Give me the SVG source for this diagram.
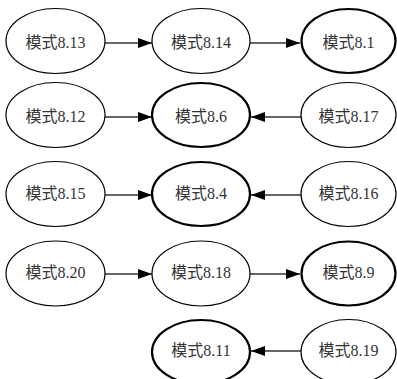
<svg xmlns="http://www.w3.org/2000/svg" width="397" height="379" viewBox="0 0 397 379">
<style>
.n{fill:#fff;stroke:#000;stroke-width:1.2}
.b{fill:#fff;stroke:#000;stroke-width:2.2}
.t{font-family:"Liberation Serif","Noto Sans CJK SC",serif;font-size:16px;fill:#333;text-anchor:middle;dominant-baseline:central}
.e{stroke:#333;stroke-width:1.3;fill:none;marker-end:url(#a)}
</style>
<defs>
<marker id="a" markerWidth="14" markerHeight="10" refX="14" refY="5" orient="auto" markerUnits="userSpaceOnUse">
<path d="M0,0 L14,5 L0,10 Z" fill="#000"/>
</marker>
</defs>
<rect width="397" height="379" fill="#fff"/>
<g id="connectors">
<line class="e" x1="105" y1="43" x2="152" y2="43"/>
<line class="e" x1="250" y1="43" x2="300" y2="43"/>
<line class="e" x1="105" y1="117" x2="152" y2="117"/>
<line class="e" x1="301" y1="117" x2="251" y2="117"/>
<line class="e" x1="105" y1="195" x2="152" y2="195"/>
<line class="e" x1="301" y1="195" x2="251" y2="195"/>
<line class="e" x1="105" y1="274" x2="152" y2="274"/>
<line class="e" x1="250" y1="274" x2="300" y2="274"/>
<line class="e" x1="301" y1="351" x2="251" y2="351"/>
</g>
<g id="n813"><ellipse class="n" cx="55.5" cy="41" rx="49.5" ry="32.5"/><text class="t" x="55.5" y="42">模式8.13</text></g>
<g id="n814"><ellipse class="n" cx="201" cy="41" rx="49" ry="32.5"/><text class="t" x="201" y="42">模式8.14</text></g>
<g id="n81"><ellipse class="b" cx="348.5" cy="41" rx="47" ry="32"/><text class="t" x="348.5" y="42">模式8.1</text></g>
<g id="n812"><ellipse class="n" cx="55.5" cy="115" rx="49.5" ry="32.5"/><text class="t" x="55.5" y="116">模式8.12</text></g>
<g id="n86"><ellipse class="b" cx="201" cy="115" rx="49" ry="32"/><text class="t" x="201" y="116">模式8.6</text></g>
<g id="n817"><ellipse class="n" cx="348.5" cy="115" rx="47.5" ry="32.5"/><text class="t" x="348.5" y="116">模式8.17</text></g>
<g id="n815"><ellipse class="n" cx="55.5" cy="194" rx="49.5" ry="32.5"/><text class="t" x="55.5" y="193">模式8.15</text></g>
<g id="n84"><ellipse class="b" cx="201" cy="194" rx="49" ry="32"/><text class="t" x="201" y="193">模式8.4</text></g>
<g id="n816"><ellipse class="n" cx="348.5" cy="194" rx="47.5" ry="32.5"/><text class="t" x="348.5" y="193">模式8.16</text></g>
<g id="n820"><ellipse class="n" cx="55.5" cy="273.5" rx="49.5" ry="32.5"/><text class="t" x="55.5" y="272">模式8.20</text></g>
<g id="n818"><ellipse class="n" cx="201" cy="273.5" rx="49" ry="32.5"/><text class="t" x="201" y="272">模式8.18</text></g>
<g id="n89"><ellipse class="b" cx="348.5" cy="273.5" rx="47" ry="32"/><text class="t" x="348.5" y="272">模式8.9</text></g>
<g id="n811"><ellipse class="b" cx="201" cy="352" rx="49" ry="32"/><text class="t" x="201" y="350">模式8.11</text></g>
<g id="n819"><ellipse class="n" cx="348.5" cy="352" rx="47.5" ry="32.5"/><text class="t" x="348.5" y="350">模式8.19</text></g>
</svg>
